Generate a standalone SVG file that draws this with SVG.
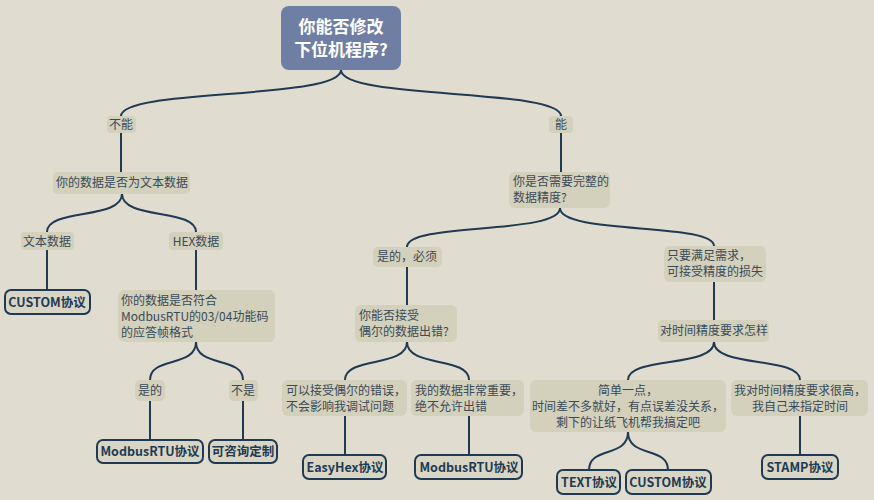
<svg xmlns="http://www.w3.org/2000/svg" width="874" height="500" viewBox="0 0 874 500">
<style>
.bg{fill:#e0ddd0}
.lb{fill:#d3d0bc}
.lf{fill:#d8d5c4;stroke:#1f3a52;stroke-width:2}
.t{font-family:"Noto Sans CJK SC","Noto Sans",sans-serif;font-size:12px;fill:#3a4a58}
.c{text-anchor:middle}
.b{font-family:"Noto Sans CJK SC","Noto Sans",sans-serif;font-size:12.5px;font-weight:bold;fill:#1f3a52;text-anchor:middle}
.r{font-family:"Noto Sans CJK SC","Noto Sans",sans-serif;font-size:17px;font-weight:bold;fill:#fff;text-anchor:middle}
#edges path{fill:none;stroke:#1f3a52;stroke-width:2}
</style>
<rect class="bg" width="874" height="500"/>
<g id="edges">
<path d="M341,70 C341,100 121,88 121,116"/>
<path d="M341,70 C341,100 561,88 561,116"/>
<path d="M121,132 L121,172"/>
<path d="M122,194 C122,220 47,208 47,232"/>
<path d="M122,194 C122,220 196,208 196,232"/>
<path d="M47,250 L47,290"/>
<path d="M196,250 L196,290"/>
<path d="M196,342 C196,368 150,356 150,380"/>
<path d="M196,342 C196,368 243,356 243,380"/>
<path d="M150,401 L150,440"/>
<path d="M243,401 L243,440"/>
<path d="M561,132 L561,172"/>
<path d="M560,208 C560,235 407,222 407,247"/>
<path d="M560,208 C560,235 714,222 714,246"/>
<path d="M407,267 L407,305"/>
<path d="M407,342 C407,368 345,356 345,380"/>
<path d="M407,342 C407,368 469,356 469,380"/>
<path d="M345,416 L345,455"/>
<path d="M469,416 L469,455"/>
<path d="M714,282 L714,320"/>
<path d="M714,342 C714,368 628,356 628,380"/>
<path d="M714,342 C714,368 800,356 800,380"/>
<path d="M628,432 C628,458 589,446 589,470"/>
<path d="M628,432 C628,458 668,446 668,470"/>
<path d="M800,416 L800,455"/>
</g>
<g id="root"><rect x="281" y="6" width="120" height="64" rx="8" fill="#6f7ea3"/><text class="r" x="341" y="33">你能否修改</text><text class="r" x="341" y="56">下位机程序?</text></g>
<g id="n1"><rect class="lb" x="107" y="116" width="29" height="17" rx="4"/><text class="t c" x="121" y="129">不能</text></g>
<g id="n2"><rect class="lb" x="549" y="116" width="24" height="17" rx="4"/><text class="t c" x="561" y="129">能</text></g>
<g id="n3"><rect class="lb" x="53" y="172" width="137" height="22" rx="5"/><text class="t c" x="122" y="187">你的数据是否为文本数据</text></g>
<g id="n4"><rect class="lb" x="21" y="232" width="53" height="18" rx="4"/><text class="t c" x="47" y="246">文本数据</text></g>
<g id="n5"><rect class="lb" x="169" y="232" width="54" height="18" rx="4"/><text class="t c" x="196" y="246">HEX数据</text></g>
<g id="n6"><rect class="lf" x="5" y="290" width="85" height="24" rx="6"/><text class="b" x="47" y="307">CUSTOM协议</text></g>
<g id="n7"><rect class="lb" x="118" y="290" width="157" height="52" rx="6"/><text class="t" x="121" y="305">你的数据是否符合</text><text class="t" x="121" y="321">ModbusRTU的03/04功能码</text><text class="t" x="121" y="337">的应答帧格式</text></g>
<g id="n8"><rect class="lb" x="135" y="380" width="30" height="21" rx="5"/><text class="t c" x="150" y="395">是的</text></g>
<g id="n9"><rect class="lb" x="229" y="380" width="29" height="21" rx="5"/><text class="t c" x="243" y="395">不是</text></g>
<g id="n10"><rect class="lf" x="97" y="440" width="106" height="23" rx="6"/><text class="b" x="150" y="456">ModbusRTU协议</text></g>
<g id="n11"><rect class="lf" x="209" y="440" width="68" height="23" rx="6"/><text class="b" x="243" y="456">可咨询定制</text></g>
<g id="n12"><rect class="lb" x="509" y="172" width="101" height="36" rx="6"/><text class="t" x="513" y="186">你是否需要完整的</text><text class="t" x="513" y="202">数据精度?</text></g>
<g id="n13"><rect class="lb" x="373" y="247" width="69" height="20" rx="5"/><text class="t c" x="407" y="261">是的，必须</text></g>
<g id="n14"><rect class="lb" x="664" y="246" width="102" height="36" rx="6"/><text class="t" x="667" y="260">只要满足需求，</text><text class="t" x="667" y="276">可接受精度的损失</text></g>
<g id="n15"><rect class="lb" x="355" y="305" width="102" height="37" rx="6"/><text class="t" x="359" y="320">你能否接受</text><text class="t" x="359" y="336">偶尔的数据出错?</text></g>
<g id="n16"><rect class="lb" x="658" y="320" width="111" height="22" rx="5"/><text class="t c" x="714" y="335">对时间精度要求怎样</text></g>
<g id="n17"><rect class="lb" x="282" y="380" width="125" height="36" rx="6"/><text class="t" x="286" y="395">可以接受偶尔的错误，</text><text class="t" x="286" y="411">不会影响我调试问题</text></g>
<g id="n18"><rect class="lb" x="411" y="380" width="113" height="36" rx="6"/><text class="t" x="415" y="395">我的数据非常重要，</text><text class="t" x="415" y="411">绝不允许出错</text></g>
<g id="n19"><rect class="lb" x="530" y="380" width="196" height="52" rx="6"/><text class="t c" x="628" y="395">简单一点，</text><text class="t c" x="628" y="411">时间差不多就好，有点误差没关系，</text><text class="t c" x="628" y="427">剩下的让纸飞机帮我搞定吧</text></g>
<g id="n20"><rect class="lb" x="731" y="380" width="137" height="36" rx="6"/><text class="t c" x="800" y="395">我对时间精度要求很高，</text><text class="t c" x="800" y="411">我自己来指定时间</text></g>
<g id="n21"><rect class="lf" x="303" y="455" width="83" height="24" rx="6"/><text class="b" x="345" y="472">EasyHex协议</text></g>
<g id="n22"><rect class="lf" x="415" y="455" width="107" height="24" rx="6"/><text class="b" x="469" y="472">ModbusRTU协议</text></g>
<g id="n23"><rect class="lf" x="557" y="470" width="63" height="24" rx="6"/><text class="b" x="589" y="487">TEXT协议</text></g>
<g id="n24"><rect class="lf" x="626" y="470" width="85" height="24" rx="6"/><text class="b" x="668" y="487">CUSTOM协议</text></g>
<g id="n25"><rect class="lf" x="762" y="455" width="76" height="24" rx="6"/><text class="b" x="800" y="472">STAMP协议</text></g>
</svg>
